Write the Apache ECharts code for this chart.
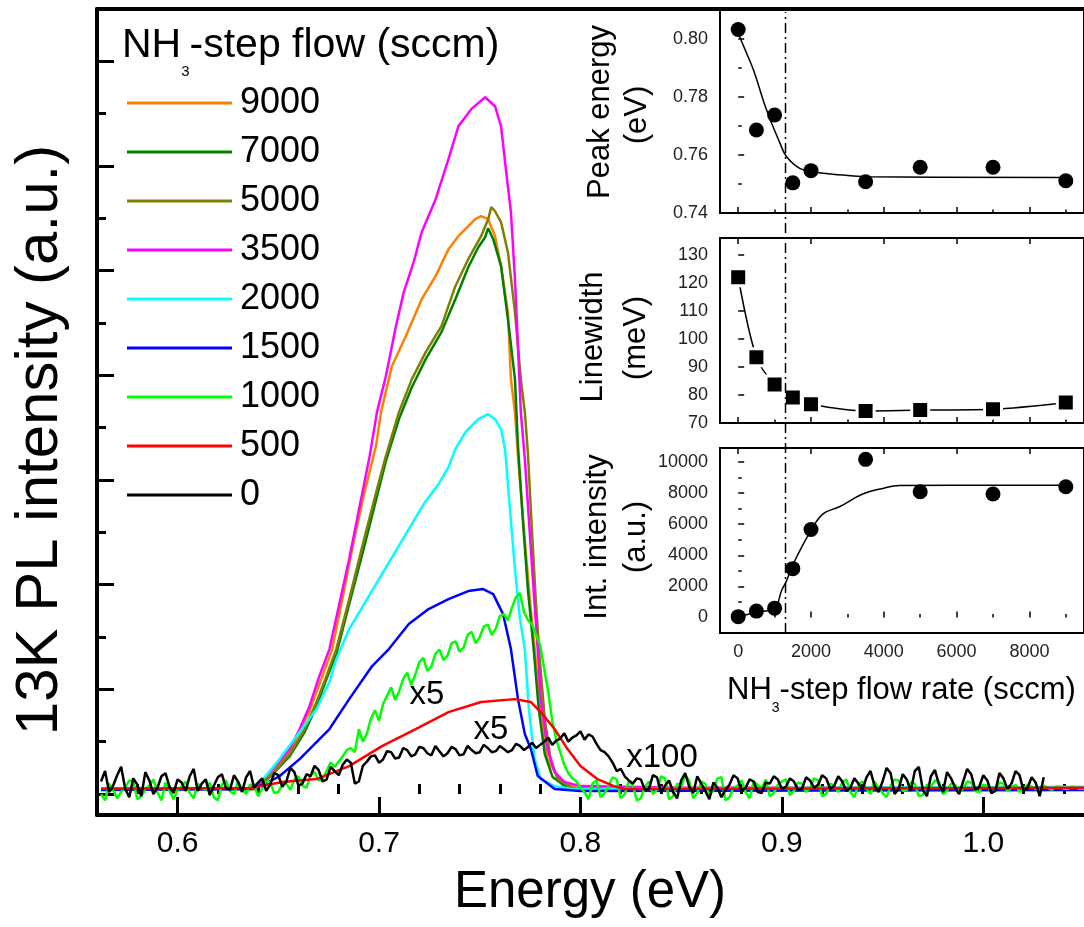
<!DOCTYPE html>
<html><head><meta charset="utf-8">
<script src="https://cdn.jsdelivr.net/npm/echarts@6/dist/echarts.min.js"></script>
<style>html,body{margin:0;padding:0;background:#fff}#c{width:1084px;height:927px}</style>
</head><body><div id="c"></div>
<script>
// ---------------- DATA ----------------
const flowLabels = ['9000','7000','5000','3500','2000','1500','1000','500','0'];
const flowColors = ['#FF8000','#008000','#808000','#FF00FF','#00FFFF','#0000FF','#00FF00','#FF0000','#000000'];

const spec9000 = [[0.562,0.05],[0.6384,0.048],[0.6458,0.191],[0.6557,0.411],[0.6606,0.592],[0.6655,0.793],[0.6704,1.05],[0.6768,1.385],[0.6828,1.958],[0.6877,2.436],[0.6926,2.866],[0.6985,3.324],[0.7010,3.649],[0.7064,4.088],[0.7133,4.374],[0.7212,4.728],[0.7281,4.948],[0.7345,5.205],[0.7394,5.33],[0.7478,5.492],[0.7507,5.521],[0.7542,5.492],[0.7576,5.33],[0.7606,5.043],[0.7640,4.604],[0.7655,3.964],[0.7675,3.649],[0.7690,3.228],[0.7719,2.531],[0.7749,1.862],[0.7773,1.385],[0.7803,0.745],[0.7837,0.334],[0.7901,0.115],[0.7985,0.057],[1.05,0.06]];
const spec7000 = [[0.562,0.05],[0.6384,0.048],[0.6458,0.162],[0.6557,0.363],[0.6631,0.592],[0.669,0.84],[0.6739,1.098],[0.6788,1.337],[0.6852,1.815],[0.6926,2.359],[0.699,2.846],[0.7034,3.181],[0.7099,3.582],[0.7163,3.887],[0.7232,4.155],[0.731,4.413],[0.7379,4.728],[0.7443,5.033],[0.7493,5.224],[0.7527,5.32],[0.7542,5.406],[0.7567,5.301],[0.7606,5.043],[0.764,4.537],[0.7675,3.964],[0.769,3.324],[0.7714,2.627],[0.7739,1.958],[0.7768,1.385],[0.7793,0.812],[0.7823,0.382],[0.7862,0.162],[0.7936,0.057],[1.05,0.05]];
const spec5000 = [[0.562,0.05],[0.6384,0.048],[0.6458,0.162],[0.6557,0.382],[0.6631,0.621],[0.669,0.879],[0.6739,1.127],[0.6788,1.385],[0.6852,1.862],[0.6926,2.436],[0.699,2.913],[0.7034,3.228],[0.7099,3.649],[0.7163,3.964],[0.7232,4.222],[0.731,4.47],[0.7379,4.852],[0.7443,5.11],[0.7507,5.33],[0.7542,5.492],[0.7557,5.607],[0.7576,5.568],[0.7606,5.463],[0.764,5.177],[0.7675,4.604],[0.7704,3.964],[0.7724,3.649],[0.7739,3.266],[0.7759,2.531],[0.7778,1.862],[0.7798,1.289],[0.7823,0.716],[0.7852,0.334],[0.7887,0.143],[0.7961,0.057],[1.05,0.05]];
const spec3500 = [[0.562,0.05],[0.600,0.05],[0.636,0.048],[0.6419,0.124],[0.6458,0.21],[0.6507,0.315],[0.6557,0.43],[0.6606,0.621],[0.6655,0.84],[0.6704,1.127],[0.6754,1.385],[0.6803,1.815],[0.6852,2.245],[0.6901,2.722],[0.6951,3.2],[0.6990,3.649],[0.7034,3.992],[0.7084,4.47],[0.7123,4.795],[0.7172,5.081],[0.7212,5.368],[0.7281,5.683],[0.7345,6.065],[0.7394,6.38],[0.7458,6.543],[0.7527,6.657],[0.7576,6.571],[0.7606,6.38],[0.7626,6.036],[0.7655,5.559],[0.7675,4.919],[0.7690,4.279],[0.7704,3.649],[0.7724,3.2],[0.7744,2.627],[0.7764,2.053],[0.7788,1.385],[0.7803,0.907],[0.7837,0.43],[0.7872,0.21],[0.7921,0.115],[0.8000,0.076],[0.85,0.06],[1.05,0.06]];
const spec2000 = [[0.562,0.05],[0.636,0.048],[0.6433,0.162],[0.6507,0.334],[0.6606,0.592],[0.669,0.812],[0.6754,1.07],[0.6788,1.289],[0.6852,1.576],[0.6926,1.815],[0.70,2.053],[0.7074,2.292],[0.7148,2.531],[0.7222,2.77],[0.7296,2.961],[0.7345,3.123],[0.7379,3.295],[0.7429,3.458],[0.7493,3.582],[0.7542,3.629],[0.7576,3.582],[0.7606,3.486],[0.7626,3.295],[0.765,2.722],[0.7675,2.149],[0.77,1.671],[0.7724,1.385],[0.7744,0.812],[0.7773,0.334],[0.7803,0.143],[0.7872,0.076],[0.7961,0.048],[1.05,0.07]];
const spec1500 = [[0.562,0.04],[0.636,0.048],[0.6433,0.096],[0.6507,0.172],[0.6606,0.334],[0.6754,0.621],[0.6852,0.907],[0.6966,1.223],[0.7049,1.385],[0.7148,1.624],[0.7246,1.767],[0.7345,1.862],[0.7443,1.939],[0.7517,1.958],[0.7567,1.91],[0.7616,1.719],[0.7655,1.385],[0.769,0.907],[0.7724,0.573],[0.7754,0.43],[0.7788,0.172],[0.7872,0.048],[0.80,0.03],[1.05,0.04]];
const spec1000 = [[0.562,0.00],[0.564,-0.06],[0.566,0.10],[0.568,0.04],[0.570,-0.04],[0.572,0.02],[0.574,0.06],[0.576,0.13],[0.578,0.12],[0.580,-0.05],[0.582,-0.02],[0.584,0.05],[0.586,0.08],[0.588,0.14],[0.590,0.02],[0.592,-0.06],[0.594,0.11],[0.596,0.03],[0.598,-0.05],[0.600,0.04],[0.602,0.07],[0.604,0.12],[0.606,0.01],[0.608,-0.04],[0.610,0.10],[0.612,0.06],[0.614,0.04],[0.616,0.11],[0.618,-0.03],[0.620,-0.06],[0.622,0.09],[0.624,0.13],[0.626,0.03],[0.628,0.00],[0.630,0.12],[0.632,0.05],[0.634,0.00],[0.636,0.09],[0.638,0.08],[0.640,-0.02],[0.642,0.05],[0.644,0.12],[0.646,0.11],[0.648,0.01],[0.650,0.02],[0.652,0.09],[0.654,0.10],[0.656,0.04],[0.658,0.14],[0.660,0.17],[0.662,0.08],[0.664,0.06],[0.666,0.18],[0.668,0.21],[0.670,0.13],[0.672,0.15],[0.674,0.22],[0.676,0.30],[0.678,0.26],[0.680,0.31],
  [0.682,0.36],[0.684,0.42],[0.686,0.44],[0.688,0.40],[0.690,0.62],[0.692,0.50],[0.694,0.58],[0.696,0.72],[0.698,0.80],[0.700,0.70],[0.702,0.86],[0.704,0.94],[0.706,1.02],[0.708,0.90],[0.710,0.98],[0.712,1.10],[0.714,1.16],[0.716,1.04],[0.718,1.14],[0.720,1.26],[0.722,1.30],[0.724,1.18],[0.726,1.22],[0.728,1.34],[0.730,1.38],[0.732,1.28],[0.734,1.32],[0.736,1.44],[0.738,1.46],[0.740,1.36],[0.742,1.40],[0.744,1.52],[0.746,1.55],[0.748,1.44],[0.750,1.50],[0.752,1.60],[0.754,1.62],[0.756,1.52],[0.758,1.58],[0.760,1.70],[0.762,1.72],[0.764,1.66],[0.766,1.78],[0.768,1.88],[0.770,1.92],[0.772,1.74],[0.774,1.66],[0.776,1.62],[0.778,1.52],[0.780,1.42],[0.782,1.20],[0.784,0.98],[0.786,0.70],[0.788,0.52],[0.790,0.40],[0.792,0.28],[0.794,0.20],[0.796,0.15],[0.798,0.12],
  [0.800,0.06],[0.802,0.02],[0.804,-0.05],[0.806,0.10],[0.808,0.13],[0.810,-0.03],[0.812,0.01],[0.814,0.08],[0.816,0.16],[0.818,0.14],[0.820,-0.04],[0.822,0.00],[0.824,0.12],[0.826,0.09],[0.828,-0.06],[0.830,-0.04],[0.832,0.07],[0.834,0.12],[0.836,0.00],[0.838,0.04],[0.840,0.17],[0.842,0.15],[0.844,-0.05],[0.846,-0.02],[0.848,0.10],[0.850,0.07],[0.852,0.18],[0.854,0.13],[0.856,-0.04],[0.858,0.01],[0.860,0.12],[0.862,0.10],[0.864,-0.02],[0.866,0.04],[0.868,0.15],[0.870,0.16],[0.872,-0.06],[0.874,-0.03],[0.876,0.06],[0.878,0.08],[0.880,0.13],[0.882,0.02],[0.884,-0.04],[0.886,0.12],[0.888,0.09],[0.890,0.05],[0.892,0.14],[0.894,-0.02],[0.896,0.01],[0.898,0.09],[0.900,0.12],[0.902,0.14],[0.904,-0.01],[0.906,0.03],[0.908,0.11],[0.910,0.10],[0.912,0.02],[0.914,0.06],[0.916,0.15],[0.918,0.13],[0.920,-0.02],[0.922,0.00],[0.924,0.10],[0.926,0.08],[0.928,0.02],[0.930,0.11],[0.932,0.14],[0.934,0.02],[0.936,-0.03],[0.938,0.09],[0.940,0.12],[0.942,0.05],[0.944,0.00],[0.946,0.12],[0.948,0.06],[0.950,0.01],[0.952,-0.03],[0.954,0.08],[0.956,0.14],[0.958,0.13],[0.960,0.03],[0.962,0.04],[0.964,0.11],[0.966,0.10],[0.968,-0.02],[0.970,-0.01],[0.972,0.09],[0.974,0.07],[0.976,0.13],[0.978,0.12],[0.980,0.00],[0.982,0.03],[0.984,0.10],[0.986,0.09],[0.988,0.02],[0.990,0.05],[0.992,0.12],[0.994,0.11],[0.996,0.03],[0.998,0.02],[1.000,0.09],[1.002,0.08],[1.004,0.01],[1.006,0.04],[1.008,0.11],[1.010,0.10],[1.012,0.03],[1.014,0.06],[1.016,0.09],[1.018,0.02],[1.020,0.05],[1.022,0.09],[1.024,0.07],[1.026,0.05],[1.028,0.03],[1.030,0.08],[1.032,0.06],[1.034,0.04],[1.036,0.07],[1.038,0.07],[1.040,0.05],[1.042,0.05],[1.044,0.07],[1.046,0.06],[1.048,0.05],[1.050,0.05]];
const spec500 = [[0.562,0.05],[0.636,0.057],[0.6522,0.115],[0.669,0.143],[0.6852,0.267],[0.7015,0.458],[0.7182,0.621],[0.7345,0.783],[0.7507,0.879],[0.7675,0.907],[0.7754,0.879],[0.7803,0.783],[0.7872,0.621],[0.7936,0.43],[0.80,0.267],[0.8084,0.143],[0.8167,0.076],[0.8217,0.048],[1.05,0.06]];
const spec0 = [[0.562,0.12],[0.564,0.22],[0.566,0.02],[0.568,0.08],[0.570,0.18],[0.572,0.26],[0.574,0.05],[0.576,-0.03],[0.578,0.15],[0.580,0.09],[0.582,-0.02],[0.584,0.21],[0.586,0.13],[0.588,0.00],[0.590,0.06],[0.592,0.17],[0.594,0.20],[0.596,0.07],[0.598,0.01],[0.600,0.14],[0.602,0.11],[0.604,0.03],[0.606,0.17],[0.608,0.24],[0.610,0.03],[0.612,0.10],[0.614,0.14],[0.616,-0.01],[0.618,0.08],[0.620,0.16],[0.622,0.19],[0.624,0.06],[0.626,0.04],[0.628,0.18],[0.630,0.12],[0.632,0.02],[0.634,0.16],[0.636,0.22],[0.638,0.06],[0.640,0.11],[0.642,0.15],[0.644,0.03],[0.646,0.09],[0.648,0.20],[0.650,0.18],[0.652,0.07],[0.654,0.12],[0.656,0.25],[0.658,0.21],[0.660,0.08],[0.662,0.10],[0.664,0.19],[0.666,0.17],[0.668,0.27],[0.670,0.23],[0.672,0.12],[0.674,0.14],[0.676,0.26],[0.678,0.22],[0.680,0.18],
  [0.682,0.28],[0.684,0.33],[0.686,0.30],[0.688,0.10],[0.690,0.12],[0.692,0.27],[0.694,0.31],[0.696,0.36],[0.698,0.37],[0.700,0.30],[0.702,0.33],[0.704,0.41],[0.706,0.40],[0.708,0.34],[0.710,0.35],[0.712,0.44],[0.714,0.42],[0.716,0.36],[0.718,0.38],[0.720,0.45],[0.722,0.44],[0.724,0.39],[0.726,0.37],[0.728,0.46],[0.730,0.41],[0.732,0.36],[0.734,0.39],[0.736,0.45],[0.738,0.43],[0.740,0.37],[0.742,0.38],[0.744,0.46],[0.746,0.42],[0.748,0.39],[0.750,0.40],[0.752,0.47],[0.754,0.44],[0.756,0.40],[0.758,0.41],[0.760,0.46],[0.762,0.43],[0.764,0.40],[0.766,0.42],[0.768,0.48],[0.770,0.46],[0.772,0.42],[0.774,0.45],[0.776,0.49],[0.778,0.44],[0.780,0.47],[0.782,0.50],[0.784,0.54],[0.786,0.47],[0.788,0.51],[0.790,0.53],[0.792,0.58],[0.794,0.50],[0.796,0.54],[0.798,0.56],[0.800,0.60],[0.802,0.52],[0.804,0.57],[0.806,0.55],[0.808,0.48],[0.810,0.42],[0.812,0.40],[0.814,0.36],[0.816,0.30],[0.818,0.22],[0.820,0.24],[0.822,0.17],[0.824,0.13],[0.826,0.10],[0.828,0.15],
  [0.830,0.14],[0.832,0.04],[0.834,0.05],[0.836,0.18],[0.838,0.16],[0.840,0.02],[0.842,0.08],[0.844,0.13],[0.846,0.02],[0.848,-0.04],[0.850,0.13],[0.852,0.20],[0.854,0.07],[0.856,0.01],[0.858,0.17],[0.860,0.10],[0.862,0.03],[0.864,-0.05],[0.866,0.11],[0.868,0.06],[0.870,-0.03],[0.872,0.04],[0.874,0.09],[0.876,0.18],[0.878,0.15],[0.880,0.03],[0.882,0.06],[0.884,0.14],[0.886,0.12],[0.888,0.02],[0.890,0.01],[0.892,0.11],[0.894,0.10],[0.896,0.17],[0.898,0.14],[0.900,0.05],[0.902,0.07],[0.904,0.15],[0.906,0.12],[0.908,0.04],[0.910,0.05],[0.912,0.16],[0.914,0.13],[0.916,0.06],[0.918,0.09],[0.920,0.18],[0.922,0.15],[0.924,0.05],[0.926,0.08],[0.928,0.17],[0.930,0.12],[0.932,0.03],[0.934,0.06],[0.936,0.15],[0.938,0.10],[0.940,0.04],[0.942,0.16],[0.944,0.22],[0.946,0.08],[0.948,0.02],[0.950,0.12],[0.952,0.25],[0.954,0.20],[0.956,0.00],[0.958,0.05],[0.960,0.19],[0.962,0.14],[0.964,0.03],[0.966,0.22],[0.968,0.26],[0.970,0.04],[0.972,-0.02],[0.974,0.17],[0.976,0.23],[0.978,0.09],[0.980,0.02],[0.982,0.21],[0.984,0.15],[0.986,0.06],[0.988,0.00],[0.990,0.12],[0.992,0.24],[0.994,0.19],[0.996,0.04],[0.998,0.07],[1.000,0.18],[1.002,0.13],[1.004,0.01],[1.006,0.03],[1.008,0.20],[1.010,0.15],[1.012,0.05],[1.014,0.10],[1.016,0.22],[1.018,0.18],[1.020,0.03],[1.022,0.06],[1.024,0.16],[1.026,0.11],[1.028,-0.02],[1.030,0.16]];

const energyTicks = [0.6, 0.7, 0.8, 0.9, 1.0];
const energyMinorTicks = [0.58, 0.62, 0.64, 0.66, 0.68, 0.72, 0.74, 0.76, 0.78, 0.82, 0.84, 0.86, 0.88, 0.92, 0.94, 0.96, 0.98, 1.02, 1.04];
const intensityTicks = [0, 1, 2, 3, 4, 5, 6, 7];
const intensityMinorTicks = [0.5, 1.5, 2.5, 3.5, 4.5, 5.5, 6.5];

// inset
const flowRates = [0, 500, 1000, 1500, 2000, 3500, 5000, 7000, 9000];
const peakEnergy = [0.8033, 0.7686, 0.7738, 0.7504, 0.7546, 0.7508, 0.7558, 0.7558, 0.7511];
const linewidth = [122.0, 93.5, 83.7, 79.1, 76.7, 74.3, 74.6, 74.9, 77.3];
const intIntensity = [50, 410, 600, 3140, 5660, 10170, 8090, 7940, 8410];
const peakFitFlow = [0, 200, 420, 780, 1150, 1330, 1690, 2060, 2600, 3600, 9000];
const peakFitValue = [0.802, 0.796, 0.7893, 0.7755, 0.764, 0.7594, 0.7554, 0.7542, 0.7534, 0.7525, 0.7522];
const intFitFlow = [0, 500, 1000, 1190, 1330, 1510, 1970, 2330, 2780, 3420, 3970, 4420, 9000];
const intFitValue = [50, 340, 600, 1720, 2370, 3440, 5480, 6660, 7120, 7940, 8300, 8495, 8500];
const flowTicks = [0, 2000, 4000, 6000, 8000];
const flowMinorTicks = [1000, 3000, 5000, 7000, 9000];
const peakTicks = [0.74, 0.76, 0.78, 0.80];
const peakMinorTicks = [0.75, 0.77, 0.79];
const lwTicks = [70, 80, 90, 100, 110, 120, 130];
const intTicks = [0, 2000, 4000, 6000, 8000, 10000];
const intMinorTicks = [1000, 3000, 5000, 7000, 9000];
const dividerFlow = 1300;

// ---------------- CHART ----------------
const FF = 'Liberation Sans, Arial, sans-serif';
const chart = echarts.init(document.getElementById('c'));
const mainSpectra = [spec9000, spec7000, spec5000, spec3500, spec2000, spec1500, spec1000, spec500, spec0];

const ctx = document.createElement('canvas').getContext('2d');
function tw(t, size) { ctx.font = size + 'px "Liberation Sans"'; return ctx.measureText(t).width; }
function subText(x, y, a, s, b, size, subSize, drop) {
  const w1 = tw(a, size), w2 = tw(s, subSize);
  const st = (t, sz) => ({text: t, fontSize: sz, fontFamily: FF, fill: '#000', align: 'left', verticalAlign: 'middle', textAlign: 'left', textVerticalAlign: 'middle'});
  return [
    {type: 'text', x: x, y: y, style: st(a, size), z: 50},
    {type: 'text', x: x + w1, y: y + drop, style: st(s, subSize), z: 50},
    {type: 'text', x: x + w1 + w2, y: y, style: st(b, size), z: 50}
  ];
}
function rotText(x, y, t, size) {
  return {type: 'text', x: x, y: y, rotation: Math.PI / 2, z: 50,
    style: {text: t, fontSize: size, fontFamily: FF, fill: '#000', align: 'center', verticalAlign: 'middle', textAlign: 'center', textVerticalAlign: 'middle'}};
}
function plainText(x, y, t, size) {
  return {type: 'text', x: x, y: y, z: 50,
    style: {text: t, fontSize: size, fontFamily: FF, fill: '#000', align: 'center', verticalAlign: 'middle', textAlign: 'center', textVerticalAlign: 'middle'}};
}

const insetL = 720, insetW = 366.5;
const tickAxis = (grid, pos, vals, len, w, extra) => Object.assign({
  type: 'value', gridIndex: grid, position: pos, min: -500, max: 9500,
  axisLine: {show: false}, splitLine: {show: false},
  axisTick: {show: true, inside: true, length: len, customValues: vals, lineStyle: {color: '#000', width: w}},
  axisLabel: {show: false}
}, extra || {});

const xAxes = [
  // main
  {type: 'value', gridIndex: 0, position: 'bottom', min: 0.56, max: 1.05,
   axisLine: {show: true, onZero: false, lineStyle: {color: '#000', width: 4}},
   axisTick: {show: true, inside: true, length: 18, customValues: energyTicks, lineStyle: {color: '#000', width: 3}},
   axisLabel: {show: true, customValues: energyTicks, formatter: v => v.toFixed(1), fontSize: 30, fontFamily: FF, color: '#000', margin: 14},
   splitLine: {show: false}},
  {type: 'value', gridIndex: 0, position: 'bottom', min: 0.56, max: 1.05,
   axisLine: {show: false}, splitLine: {show: false}, axisLabel: {show: false},
   axisTick: {show: true, inside: true, length: 10, customValues: energyMinorTicks, lineStyle: {color: '#000', width: 3}}},
  {type: 'value', gridIndex: 0, position: 'top', min: 0.56, max: 1.05,
   axisLine: {show: true, onZero: false, lineStyle: {color: '#000', width: 4}}, axisTick: {show: false}, axisLabel: {show: false}, splitLine: {show: false}},
  // panel 1
  tickAxis(1, 'bottom', flowTicks, 6, 1.5),
  tickAxis(1, 'bottom', flowMinorTicks, 3.5, 1.5),
  // panel 2
  tickAxis(2, 'bottom', flowTicks, 6, 1.5),
  tickAxis(2, 'bottom', flowMinorTicks, 3.5, 1.5),
  tickAxis(2, 'top', flowTicks, 6, 1.5),
  // panel 3
  tickAxis(3, 'bottom', flowTicks, 6, 1.5, {axisLabel: {show: true, customValues: flowTicks, formatter: v => String(v), fontSize: 18, fontFamily: FF, color: '#222', margin: 10}}),
  tickAxis(3, 'bottom', flowMinorTicks, 3.5, 1.5),
  tickAxis(3, 'top', flowTicks, 6, 1.5),
  // divider grid
  {type: 'value', gridIndex: 4, min: -500, max: 9500, show: false}
];
const yTick = (grid, min, max, vals, len, labels, fmt) => ({
  type: 'value', gridIndex: grid, position: 'left', min: min, max: max,
  axisLine: {show: false}, splitLine: {show: false},
  axisTick: {show: true, inside: true, length: len, customValues: vals, lineStyle: {color: '#000', width: 1.5}},
  axisLabel: labels ? {show: true, customValues: vals, formatter: fmt, fontSize: 18, fontFamily: FF, color: '#222', margin: 12} : {show: false}
});
const yAxes = [
  {type: 'value', gridIndex: 0, position: 'left', min: -0.2, max: 7.5,
   axisLine: {show: true, onZero: false, lineStyle: {color: '#000', width: 4}},
   axisTick: {show: true, inside: true, length: 17, customValues: intensityTicks, lineStyle: {color: '#000', width: 3}},
   axisLabel: {show: false}, splitLine: {show: false}},
  {type: 'value', gridIndex: 0, position: 'left', min: -0.2, max: 7.5,
   axisLine: {show: false}, axisLabel: {show: false}, splitLine: {show: false},
   axisTick: {show: true, inside: true, length: 9, customValues: intensityMinorTicks, lineStyle: {color: '#000', width: 3}}},
  yTick(1, 0.74, 0.81, peakTicks, 6, true, v => v.toFixed(2)),
  yTick(1, 0.74, 0.81, peakMinorTicks, 3.5, false),
  yTick(2, 70, 136, lwTicks, 6, true, v => String(v)),
  yTick(3, -1000, 10900, intTicks, 6, true, v => String(v)),
  yTick(3, -1000, 10900, intMinorTicks, 3.5, false),
  {type: 'value', gridIndex: 4, min: 0, max: 1, show: false}
];

const grids = [
  {left: 97, top: 9, width: 995, height: 806},
  {left: insetL, top: 10, width: insetW, height: 203, show: true, backgroundColor: '#fff', borderColor: '#000', borderWidth: 2},
  {left: insetL, top: 238, width: insetW, height: 185, show: true, backgroundColor: '#fff', borderColor: '#000', borderWidth: 2},
  {left: insetL, top: 448, width: insetW, height: 185, show: true, backgroundColor: '#fff', borderColor: '#000', borderWidth: 2},
  {left: insetL, top: 12, width: insetW, height: 621}
];

const series = mainSpectra.map((d, i) => ({
  type: 'line', name: flowLabels[i], xAxisIndex: 0, yAxisIndex: 0, data: d,
  symbol: 'none', showSymbol: false, smooth: false,
  lineStyle: {width: 2.5, color: flowColors[i]}, itemStyle: {color: flowColors[i]}, z: 3
}));
const zip = (a, b) => a.map((v, i) => [v, b[i]]);
series.push(
  {type: 'line', name: 'peakFit', xAxisIndex: 3, yAxisIndex: 2, data: zip(peakFitFlow, peakFitValue), smooth: 0.4, symbol: 'none', lineStyle: {color: '#000', width: 1.5}, z: 4},
  {type: 'scatter', name: 'peak', xAxisIndex: 3, yAxisIndex: 2, data: zip(flowRates, peakEnergy), symbol: 'circle', symbolSize: 15, itemStyle: {color: '#000', opacity: 1}, z: 5},
  {type: 'line', name: 'lw', xAxisIndex: 5, yAxisIndex: 4, data: zip(flowRates, linewidth), smooth: 0.3, symbol: 'rect', symbolSize: 17, showSymbol: true,
   lineStyle: {color: '#000', width: 1.5}, itemStyle: {color: '#000', borderColor: '#fff', borderWidth: 3, opacity: 1}, z: 5},
  {type: 'line', name: 'intFit', xAxisIndex: 8, yAxisIndex: 5, data: zip(intFitFlow, intFitValue), smooth: 0.4, symbol: 'none', lineStyle: {color: '#000', width: 1.5}, z: 4},
  {type: 'scatter', name: 'int', xAxisIndex: 8, yAxisIndex: 5, data: zip(flowRates, intIntensity), symbol: 'circle', symbolSize: 15, itemStyle: {color: '#000', opacity: 1}, z: 5},
  {type: 'line', name: 'divider', xAxisIndex: 11, yAxisIndex: 7, data: [[dividerFlow, 0], [dividerFlow, 1]], symbol: 'none',
   lineStyle: {color: '#000', width: 1.5, type: [10, 4, 2, 4]}, z: 6}
);

const graphics = [].concat(
  subText(122, 46, 'NH', '3', '-step flow (sccm)', 41, 15, 26),
  subText(727, 690, 'NH', '3', '-step flow rate (sccm)', 31, 14, 18),
  [
    rotText(40, 440, '13K PL intensity (a.u.)', 60),
    plainText(590, 893, 'Energy (eV)', 51),
    plainText(427, 695, 'x5', 33),
    plainText(491, 730, 'x5', 33),
    plainText(662, 758, 'x100', 33),
    rotText(600, 112, 'Peak energy', 31),
    rotText(637, 115, '(eV)', 31),
    rotText(593, 337, 'Linewidth', 31),
    rotText(636, 338, '(meV)', 31),
    rotText(597, 537, 'Int. intensity', 31),
    rotText(636, 537, '(a.u.)', 31)
  ]
);

chart.setOption({
  animation: false,
  backgroundColor: '#fff',
  grid: grids,
  xAxis: xAxes,
  yAxis: yAxes,
  legend: {
    data: flowLabels, orient: 'vertical', left: 122, top: 78, icon: 'rect', itemWidth: 105, itemHeight: 3, itemGap: 9,
    selectedMode: false, textStyle: {fontSize: 36, fontFamily: FF, color: '#000', lineHeight: 40, padding: [0, 0, 0, 3]}
  },
  series: series,
  graphic: graphics
});
</script>
</body></html>
